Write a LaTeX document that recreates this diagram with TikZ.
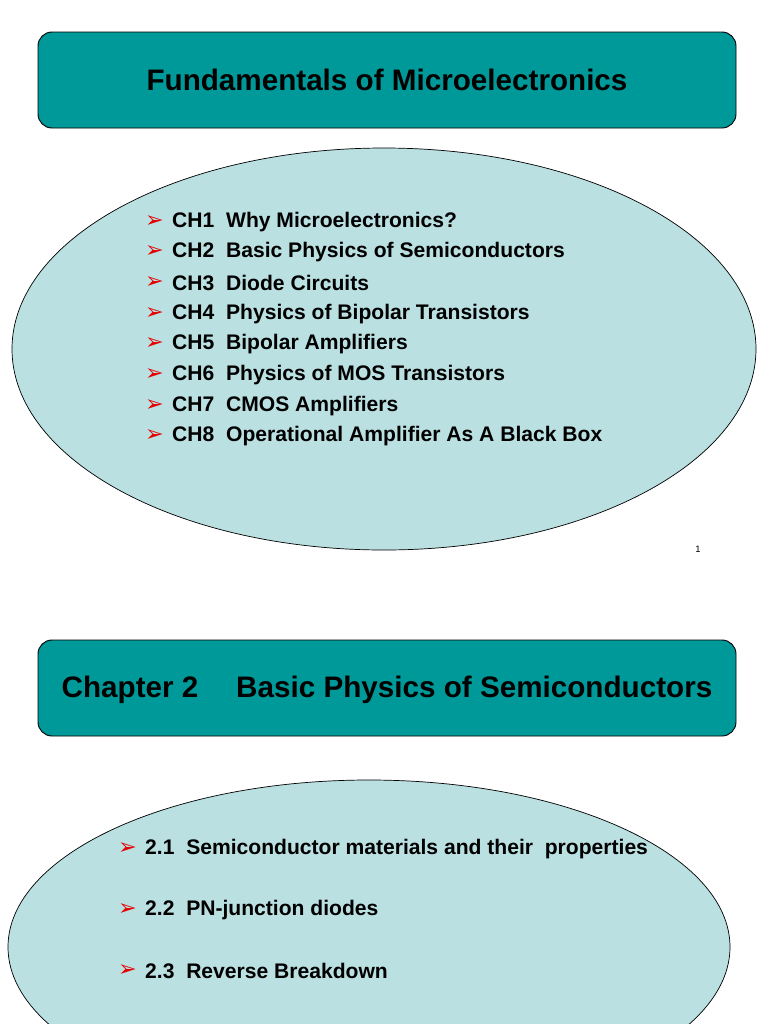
\documentclass[tikz,border=0pt]{standalone}
\usepackage{fontspec}
\setmainfont{Liberation Sans}
\newfontfamily\dv{DejaVu Sans}
\definecolor{teal1}{RGB}{0,153,153}
\definecolor{lblue}{RGB}{186,224,226}
\definecolor{bred}{RGB}{230,0,0}
\begin{document}
\begin{tikzpicture}[x=0.03cm,y=-0.03cm,
  titlebox/.style={draw=black,line width=0.8pt,fill=teal1,rounded corners=12pt},
  oval/.style={draw=black,line width=0.6pt,fill=lblue},
  item/.style={anchor=west,inner sep=0pt,font=\fontsize{18}{21}\selectfont\bfseries},
  bul/.style={anchor=west,inner sep=0pt,text=bred,font=\dv\fontsize{19}{21}\selectfont},
  ttl/.style={font=\fontsize{25.3}{30}\selectfont\bfseries}]
\useasboundingbox (0,0) rectangle (768,1024);
\clip (0,0) rectangle (768,1024);
\fill[white] (0,0) rectangle (768,1024);
\draw[titlebox] (38,32) rectangle (736,128);
\node[ttl] (t1) at (387,80) {Fundamentals of Microelectronics};
\draw[oval] (384,349) ellipse [x radius=372, y radius=201];
\foreach \y/\t [count=\i] in {222/CH1\ \ Why Microelectronics?,252/CH2\ \ Basic Physics of Semiconductors,283/CH3\ \ Diode Circuits,314/CH4\ \ Physics of Bipolar Transistors,344/CH5\ \ Bipolar Amplifiers,375/CH6\ \ Physics of MOS Transistors,406/CH7\ \ CMOS Amplifiers,436/CH8\ \ Operational Amplifier As A Black Box}{
  \node[bul] (b\i) at (145,\y) {➢};
  \node[item] (a\i) at (172,\y) {\t};
}
\node[font=\fontsize{8}{9}\selectfont] (pg) at (698,549) {1};
\draw[titlebox] (38,640) rectangle (736,736);
\node[ttl] (t2) at (387,690) {Chapter 2\quad\ Basic Physics of Semiconductors};
\draw[oval] (369,947) ellipse [x radius=361, y radius=167];
\foreach \y/\t [count=\i] in {849/2.1\ \ Semiconductor materials and their\ \ properties,910/2.2\ \ PN-junction diodes,971/2.3\ \ Reverse Breakdown}{
  \node[bul] (c\i) at (118,\y) {➢};
  \node[item] (d\i) at (145,\y) {\t};
}
\end{tikzpicture}
\end{document}
